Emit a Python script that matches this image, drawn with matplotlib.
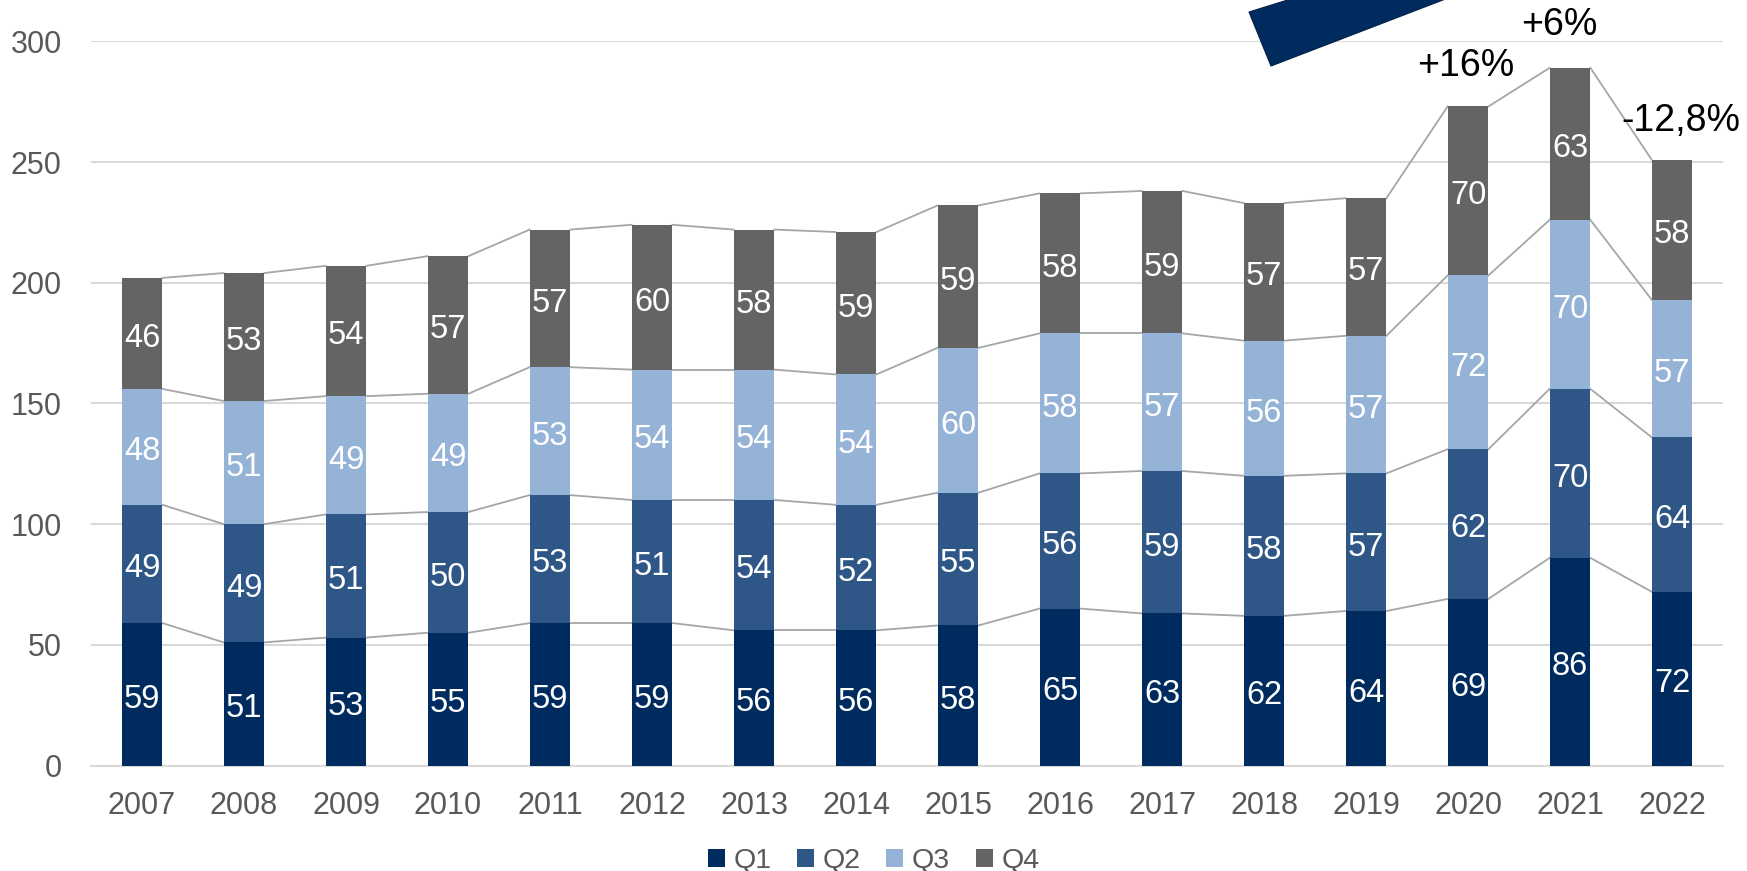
import matplotlib
matplotlib.use("Agg")
import matplotlib.pyplot as plt
import numpy as np
from matplotlib.patches import Polygon, Patch

plt.rcParams['font.family'] = ['Liberation Sans', 'DejaVu Sans']

years = ['2007', '2008', '2009', '2010', '2011', '2012', '2013', '2014',
         '2015', '2016', '2017', '2018', '2019', '2020', '2021', '2022']
q1 = [59, 51, 53, 55, 59, 59, 56, 56, 58, 65, 63, 62, 64, 69, 86, 72]
q2 = [49, 49, 51, 50, 53, 51, 54, 52, 55, 56, 59, 58, 57, 62, 70, 64]
q3 = [48, 51, 49, 49, 53, 54, 54, 54, 60, 58, 57, 56, 57, 72, 70, 57]
q4 = [46, 53, 54, 57, 57, 60, 58, 59, 59, 58, 59, 57, 57, 70, 63, 58]
series_names = ['Q1', 'Q2', 'Q3', 'Q4']
colors = ['#002B5E', '#2E5787', '#95B3D7', '#646464']
yticks = [0, 50, 100, 150, 200, 250, 300]
growth_labels = ['+16%', '+6%', '-12,8%']

W, H = 1747, 871
fig = plt.figure(figsize=(W / 100, H / 100), dpi=100)
ax = fig.add_axes([91 / W, 1 - 765.5 / H, (1723 - 91) / W, (765.5 - 41.3) / H])

x = np.arange(len(years))
bw = 0.4
data = [q1, q2, q3, q4]
bottom = np.zeros(len(years))
tops = []
for vals, col in zip(data, colors):
    vals = np.array(vals, dtype=float)
    ax.bar(x, vals, bw, bottom=bottom, color=col, zorder=3, linewidth=0)
    for xi, b, v in zip(x, bottom, vals):
        ax.annotate(f'{int(v)}', (xi, b + v / 2), xytext=(0, -3.5),
                    textcoords='offset points', ha='center', va='center',
                    color='white', fontsize=23.5, zorder=5)
    bottom = bottom + vals
    tops.append(bottom.copy())

# series lines
for t in tops:
    for i in range(len(years) - 1):
        ax.plot([x[i] + bw / 2, x[i + 1] - bw / 2], [t[i], t[i + 1]],
                color='#A6A6A6', lw=1.3, zorder=2)

ax.set_xlim(-0.5, len(years) - 0.5)
ax.set_ylim(0, 300)
ax.set_yticks(yticks)
ax.set_xticks(x)
ax.set_xticklabels(years)
ax.tick_params(axis='both', length=0, labelsize=22, colors='#595959')
ax.tick_params(axis='y', pad=21)
ax.tick_params(axis='x', pad=18)
ax.grid(axis='y', color='#D9D9D9', lw=1.5, zorder=0)
for s in ['top', 'right', 'left']:
    ax.spines[s].set_visible(False)
ax.spines['bottom'].set_color('#D9D9D9')
ax.spines['bottom'].set_linewidth(1.5)

# growth annotations (figure pixel positions)
ann_pos = [(1466, 66), (1559, 25), (1681, 121)]
for lab, (px, py) in zip(growth_labels, ann_pos):
    fig.text(px / W, 1 - py / H, lab, ha='center', va='center',
             fontsize=27, color='black')

# decorative arrow shape
pts = [(1249, 12), (1271, 66), (1495, -20), (1352, -20)]
poly = Polygon([(px / W, 1 - py / H) for px, py in pts], closed=True,
               transform=fig.transFigure, facecolor='#002B5E',
               edgecolor='#001F45', lw=0.8, clip_on=False)
fig.patches.append(poly)

handles = [Patch(facecolor=c, edgecolor='none') for c in colors]
fig.legend(handles, series_names, loc='center', ncol=4,
           bbox_to_anchor=(0.5, 1 - 861 / H), frameon=False, fontsize=20.5,
           handlelength=0.6, handleheight=0.6, handletextpad=0.3,
           columnspacing=0.9, labelcolor='#595959')

fig.savefig('out.png', dpi=100)
